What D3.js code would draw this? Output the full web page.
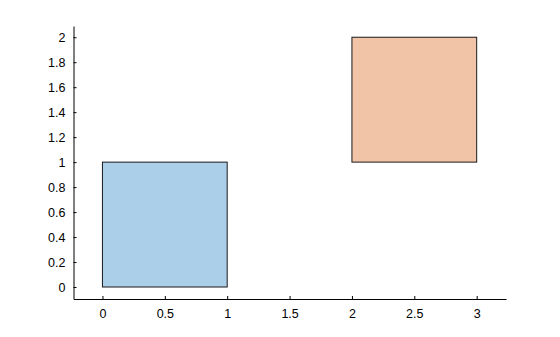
<!DOCTYPE html>
<html>
<head>
<meta charset="utf-8">
<script src="https://cdn.jsdelivr.net/npm/d3@7"></script>
<style>
  body { margin: 0; background: #fff; }
  svg { display: block; font-family: "Liberation Sans", Arial, sans-serif; }
</style>
</head>
<body>
<div id="chart"></div>
<script>
// Two filled rectangles (patches) on a plain x/y frame.
const rectX0 = [0, 2];
const rectX1 = [1, 3];
const rectY0 = [0, 1];
const rectY1 = [1, 2];
const rectColors = ["#abcee9", "#f2c4a7"];
const xTicks = [0, 0.5, 1, 1.5, 2, 2.5, 3];
const yTicks = [0, 0.2, 0.4, 0.6, 0.8, 1, 1.2, 1.4, 1.6, 1.8, 2];

const w = 560, h = 337;
const margin = { top: 26, right: 54, bottom: 38, left: 73.5 };

const x = d3.scaleLinear().domain([-0.232, 3.235]).range([margin.left, w - margin.right]);
const y = d3.scaleLinear().domain([-0.096, 2.09]).range([h - margin.bottom, margin.top]);

const svg = d3.select("#chart").append("svg").attr("width", w).attr("height", h);

// patches
svg.append("g")
  .selectAll("rect")
  .data(rectX0.map((d, i) => i))
  .join("rect")
  .attr("x", (i) => x(rectX0[i]))
  .attr("y", (i) => y(rectY1[i]))
  .attr("width", (i) => x(rectX1[i]) - x(rectX0[i]))
  .attr("height", (i) => y(rectY0[i]) - y(rectY1[i]))
  .attr("fill", (i) => rectColors[i])
  .attr("stroke", "#1a1a1a")
  .attr("stroke-width", 1);

const fmt = (d) => String(d);

// y axis, ticks pointing inward
svg.append("g")
  .attr("transform", `translate(${margin.left}, 0)`)
  .call(d3.axisLeft(y).tickValues(yTicks).tickFormat(fmt).tickSizeInner(-3).tickSizeOuter(0).tickPadding(8))
  .call((g) => g.select(".domain").attr("stroke", "#000"))
  .call((g) => g.selectAll(".tick text").attr("fill", "#000").attr("font-size", 12.5));

// x axis
svg.append("g")
  .attr("transform", `translate(0, ${h - margin.bottom})`)
  .call(d3.axisBottom(x).tickValues(xTicks).tickFormat(fmt).tickSizeInner(-3).tickSizeOuter(0).tickPadding(10))
  .call((g) => g.select(".domain").attr("stroke", "#000"))
  .call((g) => g.selectAll(".tick text").attr("fill", "#000").attr("font-size", 12.5));
</script>
</body>
</html>
